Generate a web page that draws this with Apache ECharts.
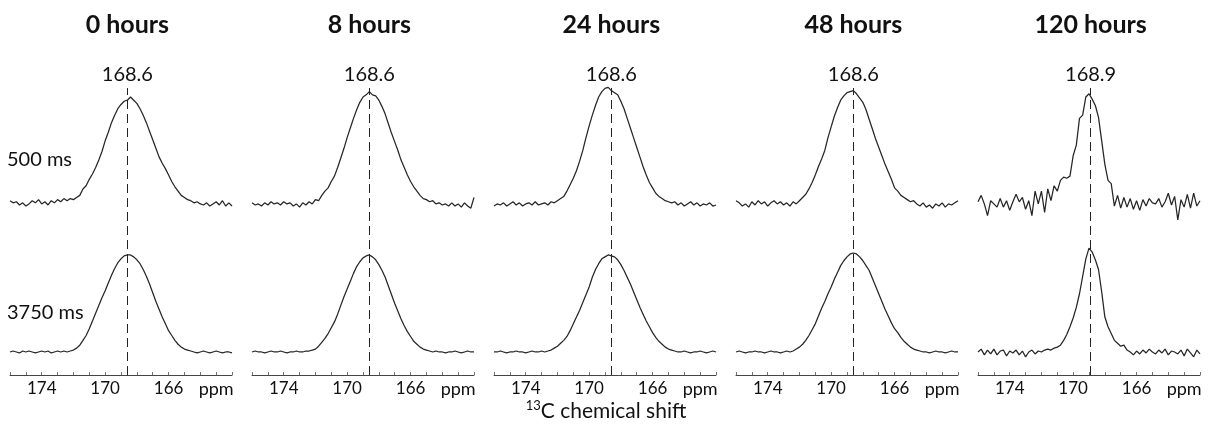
<!DOCTYPE html>
<html>
<head>
<meta charset="utf-8">
<script src="https://cdn.jsdelivr.net/npm/echarts@6/dist/echarts.min.js"></script>
<style>
html, body { margin: 0; padding: 0; background: #fff; }
#main { width: 1210px; height: 431px; }
</style>
</head>
<body>
<div id="main"></div>
<script>
// chemical shift sample points, ppm
var ppm = [176.0,175.8,175.6,175.4,175.2,175.0,174.8,174.6,174.4,174.2,
  174.0,173.8,173.6,173.4,173.2,173.0,172.8,172.6,172.4,172.2,
  172.0,171.8,171.6,171.4,171.2,171.0,170.8,170.6,170.4,170.2,
  170.0,169.8,169.6,169.4,169.2,169.0,168.8,168.6,168.4,168.2,
  168.0,167.8,167.6,167.4,167.2,167.0,166.8,166.6,166.4,166.2,
  166.0,165.8,165.6,165.4,165.2,165.0,164.8,164.6,164.4,164.2,
  164.0,163.8,163.6,163.4,163.2,163.0,162.8,162.6,162.4,162.2,162.0];

var hours = ['0 hours', '8 hours', '24 hours', '48 hours', '120 hours'];
var peaks = [168.6, 168.6, 168.6, 168.6, 168.9];
var delays = ['500 ms', '3750 ms'];
var tickLabels = [174, 170, 166];

// relative intensity, 500 ms
var ms500_0h = [3,1,2,-1,1,-2,0,3,1,4, 0,2,-1,3,1,4,2,5,3,5,
  4,6,8,14,17,23,28,34,41,49, 59,67,76,83,89,93,96,97,100,97,
  94,89,83,76,68,60,52,44,38,33, 27,21,16,12,8,6,4,3,1,2,
  0,-1,1,-2,0,2,-1,3,-2,1,-2];
var ms500_8h = [1,-1,0,-2,1,-1,2,0,1,-1, 2,0,1,-2,0,-3,1,-1,2,0,
  4,3,8,12,15,21,26,34,43,52, 62,71,80,88,95,100,102,105,102,101,
  97,91,84,75,66,58,50,41,34,27, 21,16,12,8,5,4,2,3,0,1,
  -1,0,-2,1,-2,0,-3,1,-2,-4,6];
var ms500_24h = [-2,0,-1,1,-2,0,2,-1,1,-2, 0,1,-1,2,-1,0,1,-1,2,1,
  3,5,7,12,18,24,31,40,50,62, 73,83,92,100,105,108,109,106,104,102,
  96,89,80,71,62,53,44,35,27,20, 15,10,7,5,3,2,1,2,-1,1,
  -2,0,2,-1,1,-2,0,-1,1,-2,-1];
var ms500_48h = [3,1,-2,0,-3,2,-1,3,0,2, -2,1,3,0,2,-1,1,-2,2,0,
  3,6,9,14,20,27,35,42,50,62, 72,82,90,97,101,104,105,106,103,99,
  95,88,79,70,61,53,45,37,30,23, 15,12,8,6,4,2,3,0,-2,1,
  -3,-1,-4,0,-2,1,-3,0,-1,1,3];
var ms500_120h = [2,8,0,-11,3,0,-3,5,-3,3, -6,2,9,2,6,-5,3,-11,12,0,
  12,-8,14,3,17,12,22,25,24,26, 45,55,80,83,100,103,98,92,81,59,
  37,22,19,-2,8,-4,6,-3,5,-5, 3,-6,4,-2,5,1,0,5,-3,2,
  10,-1,7,-15,4,-3,9,-4,10,-2,3];

// relative intensity, 3750 ms
var ms3750_0h = [0,1,0,-1,1,0,1,0,-1,0, 1,0,1,-1,0,1,0,1,0,1,
  2,4,7,12,17,24,32,40,48,56, 63,71,79,86,92,96,99,100,100,98,
  95,91,85,78,70,61,52,44,36,29, 22,17,12,8,5,3,2,1,0,-1,
  0,1,0,-1,0,1,0,-1,0,0,-1];
var ms3750_8h = [0,1,0,0,-1,0,1,0,0,1, 0,-1,0,0,1,0,0,1,1,2,
  3,6,10,14,19,25,31,39,48,57, 65,73,81,88,93,97,99,100,98,95,
  90,84,77,68,59,50,42,34,27,21, 16,11,8,5,3,2,1,0,1,0,
  0,-1,0,0,1,0,-1,0,1,0,0];
var ms3750_24h = [0,0,1,0,-1,0,0,1,0,0, -1,0,1,0,0,1,0,1,2,4,
  6,9,12,16,22,29,36,43,51,59, 67,77,85,91,96,98,100,99,98,95,
  90,84,77,70,62,54,46,39,32,26, 20,15,11,8,5,3,2,1,0,0,
  1,0,-1,0,0,1,0,-1,0,1,0];
var ms3750_48h = [0,1,0,-1,0,0,1,0,0,-1, 0,1,0,0,-1,0,1,0,1,3,
  5,8,12,17,23,29,37,45,52,60, 67,75,82,89,94,98,101,102,101,98,
  94,89,84,76,68,60,52,44,37,30, 24,20,15,11,8,5,3,2,1,0,
  0,-1,0,1,0,0,-1,0,1,0,0];
var ms3750_120h = [0,3,-3,2,-2,3,-3,1,2,-4, 1,-1,2,-3,1,-5,0,2,-2,1,
  0,2,3,2,4,5,7,12,18,26, 35,46,60,78,96,107,103,95,85,62,
  36,26,19,12,9,6,7,2,0,-3, 1,-2,2,-1,3,0,-2,2,-1,3,
  -3,1,0,-2,2,-4,3,-1,-5,2,-2];

var topRows = [ms500_0h, ms500_8h, ms500_24h, ms500_48h, ms500_120h];
var bottomRows = [ms3750_0h, ms3750_8h, ms3750_24h, ms3750_48h, ms3750_120h];

var FONT = 'Lato, "Open Sans", sans-serif';
var gridLeft = [10, 252, 494, 736, 978];
var gridW = 222, gridTop = 88, gridH = 287;

function pairs(ys) {
  return ys.map(function (y, i) { return [ppm[i], y]; });
}

var grids = [], xAxes = [], yAxes = [], series = [], graphics = [];

hours.forEach(function (h, k) {
  grids.push({ left: gridLeft[k], top: gridTop, width: gridW, height: gridH });
  xAxes.push({
    type: 'value', gridIndex: k, min: 162, max: 176, interval: 1, inverse: true,
    axisLine: { onZero: false, lineStyle: { color: '#444', width: 1 } },
    axisTick: { inside: true, length: 3, lineStyle: { color: '#777' } },
    splitLine: { show: false },
    axisLabel: {
      margin: 5, color: '#111', fontSize: 17, fontFamily: FONT,
      rich: { u: { fontSize: 18, fontFamily: FONT, color: '#111' } },
      formatter: function (v) {
        var r = Math.round(v);
        if (tickLabels.indexOf(r) >= 0) return String(r);
        if (r === 163) return '{u|ppm}';
        return '';
      }
    }
  });
  yAxes.push({ type: 'value', gridIndex: k, show: false, min: -160, max: 108.4 });
  yAxes.push({ type: 'value', gridIndex: k, show: false, min: -23.7, max: 272 });

  series.push({
    type: 'line', xAxisIndex: k, yAxisIndex: 2 * k, data: pairs(topRows[k]),
    showSymbol: false, clip: false, animation: false,
    lineStyle: { color: '#262626', width: 1.25 },
    markLine: {
      silent: true, symbol: 'none', animation: false,
      lineStyle: { color: '#222', width: 1, type: [9, 5] },
      label: {
        show: true, position: 'end', distance: 3,
        formatter: peaks[k].toFixed(1),
        color: '#111', fontSize: 20, fontFamily: FONT
      },
      data: [{ xAxis: peaks[k] }]
    }
  });
  series.push({
    type: 'line', xAxisIndex: k, yAxisIndex: 2 * k + 1, data: pairs(bottomRows[k]),
    showSymbol: false, clip: false, animation: false,
    lineStyle: { color: '#262626', width: 1.25 }
  });

  graphics.push({
    type: 'text',
    x: gridLeft[k] + (176 - peaks[k]) / 14 * gridW, y: 25,
    style: {
      text: h, font: 'bold 25px ' + FONT, fill: '#111',
      textAlign: 'center', textVerticalAlign: 'middle',
      align: 'center', verticalAlign: 'middle'
    }
  });
});

graphics.push({
  type: 'text', x: 7, y: 160,
  style: { text: delays[0], font: '20px ' + FONT, fill: '#111',
    textAlign: 'left', textVerticalAlign: 'middle', align: 'left', verticalAlign: 'middle' }
});
graphics.push({
  type: 'text', x: 7, y: 313,
  style: { text: delays[1], font: '20px ' + FONT, fill: '#111',
    textAlign: 'left', textVerticalAlign: 'middle', align: 'left', verticalAlign: 'middle' }
});
graphics.push({
  type: 'text', x: 606, y: 411,
  style: {
    text: '{s|13}{m|C chemical shift}', fill: '#111',
    textAlign: 'center', textVerticalAlign: 'middle', align: 'center', verticalAlign: 'middle',
    rich: {
      s: { fontSize: 13, fontFamily: FONT, fill: '#111', verticalAlign: 'top', lineHeight: 24 },
      m: { fontSize: 21, fontFamily: FONT, fill: '#111', lineHeight: 24 }
    }
  }
});

var option = {
  animation: false,
  backgroundColor: '#fff',
  grid: grids,
  xAxis: xAxes,
  yAxis: yAxes,
  series: series,
  graphic: graphics
};

var chart = echarts.init(document.getElementById('main'));
chart.setOption(option);
</script>
</body>
</html>
